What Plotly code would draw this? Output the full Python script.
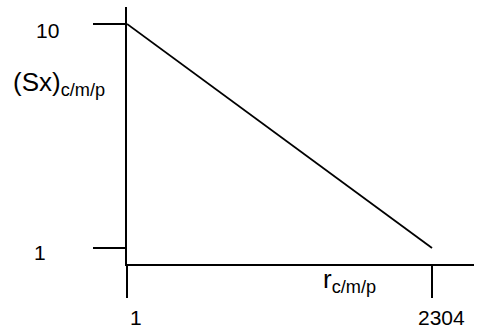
import plotly.graph_objects as go

# Data
r_values = [1, 2304]          # r_{c/m/p}
sx_values = [10, 1]           # (Sx)_{c/m/p}
x_tick_vals = [1, 2304]
x_tick_text = ["1", "2304"]
y_tick_vals = [10, 1]
y_tick_text = ["10", "1"]
x_title = "r<sub>c/m/p</sub>"
y_title = "(Sx)<sub>c/m/p</sub>"

FONT = "Arial, Liberation Sans, sans-serif"

fig = go.Figure()
fig.add_trace(go.Scatter(
    x=r_values, y=sx_values, mode="lines",
    line=dict(color="black", width=1.8),
    hoverinfo="skip", showlegend=False,
))

fig.update_layout(
    width=477, height=334,
    margin=dict(l=127, r=3, t=7, b=70),
    paper_bgcolor="white", plot_bgcolor="white",
    font=dict(family=FONT, color="black", size=20),
    showlegend=False,
)

fig.update_xaxes(
    range=[1, 2621], showgrid=False, zeroline=False,
    showline=True, linecolor="black", linewidth=2,
    ticks="outside", ticklen=32, tickwidth=2, tickcolor="black",
    tickvals=x_tick_vals, showticklabels=False,
)
fig.update_yaxes(
    range=[0.357, 10.683], showgrid=False, zeroline=False,
    showline=True, linecolor="black", linewidth=2,
    ticks="outside", ticklen=32, tickwidth=2, tickcolor="black",
    tickvals=y_tick_vals, showticklabels=False,
)

ann = []
# y tick labels
y_label_dx = {"10": -80, "1": -87}
y_label_dy = {"10": -6, "1": -4}
for v, t in zip(y_tick_vals, y_tick_text):
    ann.append(dict(x=0, xref="paper", y=v, yref="y", text=t, showarrow=False,
                    xanchor="center", yanchor="middle",
                    xshift=y_label_dx[t], yshift=y_label_dy[t],
                    font=dict(size=21)))
# x tick labels
for v, t in zip(x_tick_vals, x_tick_text):
    ann.append(dict(x=v, xref="x", y=0, yref="paper", text=t, showarrow=False,
                    xanchor="center", yanchor="middle",
                    xshift=9, yshift=-53, font=dict(size=21)))
# axis titles
ann.append(dict(x=0, xref="paper", y=1, yref="paper", text=y_title, showarrow=False,
                xanchor="left", yanchor="middle", xshift=-116, yshift=-76,
                font=dict(size=26)))
ann.append(dict(x=0, xref="paper", y=0, yref="paper", text=x_title, showarrow=False,
                xanchor="left", yanchor="middle", xshift=194, yshift=-16,
                font=dict(size=26)))
fig.update_layout(annotations=ann)

fig.write_html("out.html", config={"displayModeBar": False},
               post_script="document.body.style.margin='0';")
